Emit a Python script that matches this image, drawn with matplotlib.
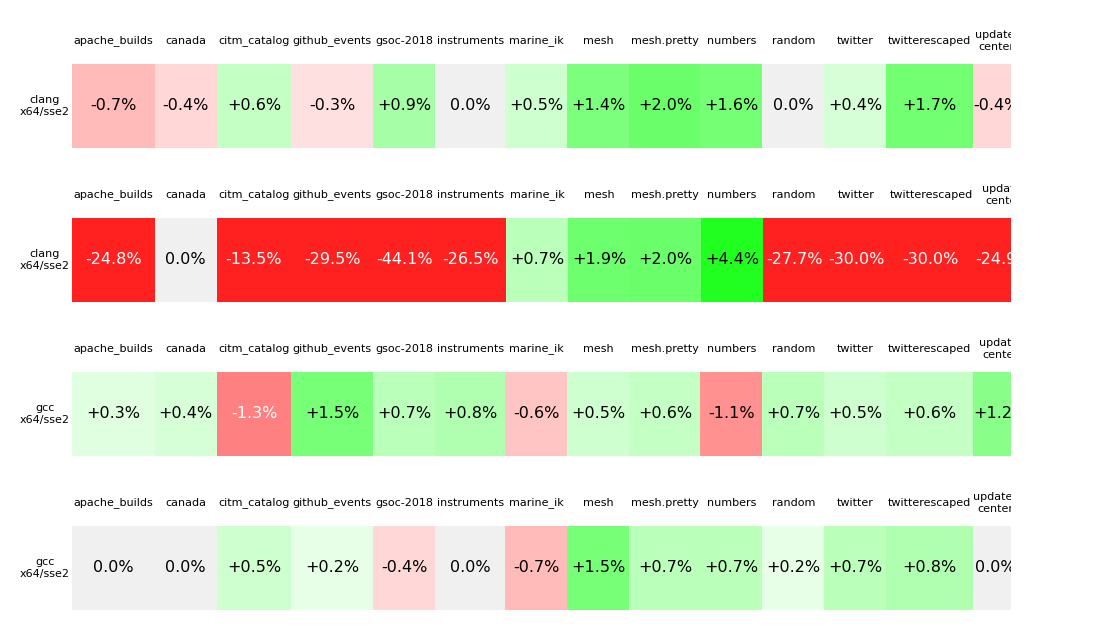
import matplotlib
matplotlib.use("Agg")
import matplotlib.pyplot as plt
from matplotlib.colors import LinearSegmentedColormap, Normalize
from matplotlib.font_manager import FontProperties
from matplotlib.patches import Rectangle

# ---------------- data ----------------
benchmarks = ["apache_builds", "canada", "citm_catalog", "github_events", "gsoc-2018",
              "instruments", "marine_ik", "mesh", "mesh.pretty", "numbers", "random",
              "twitter", "twitterescaped", "update-center"]
header_labels = ["apache_builds", "canada", "citm_catalog", "github_events", "gsoc-2018",
                 "instruments", "marine_ik", "mesh", "mesh.pretty", "numbers", "random",
                 "twitter", "twitterescaped", "update-\ncenter"]
row_labels = ["clang\nx64/sse2", "clang\nx64/sse2", "gcc\nx64/sse2", "gcc\nx64/sse2"]

row1 = [-0.7, -0.4, 0.6, -0.3, 0.9, 0.0, 0.5, 1.4, 2.0, 1.6, 0.0, 0.4, 1.7, -0.4]
row2 = [-24.8, 0.0, -13.5, -29.5, -44.1, -26.5, 0.7, 1.9, 2.0, 4.4, -27.7, -30.0, -30.0, -24.9]
row3 = [0.3, 0.4, -1.3, 1.5, 0.7, 0.8, -0.6, 0.5, 0.6, -1.1, 0.7, 0.5, 0.6, 1.2]
row4 = [0.0, 0.0, 0.5, 0.2, -0.4, 0.0, -0.7, 1.5, 0.7, 0.7, 0.2, 0.7, 0.8, 0.0]
rows = [row1, row2, row3, row4]

# ---------------- colour scale (red - grey - green) ----------------
mag_anchor = [0.0, 0.1, 0.3, 0.5, 0.8, 1.1, 1.3, 1.5, 2.0, 4.4, 5.0]
lvl_anchor = [240, 237, 224, 206, 176, 145, 128, 120, 106, 32, 32]
VMAX = 5.0
nodes = []
for m, l in zip(mag_anchor[::-1], lvl_anchor[::-1]):
    if m > 0:
        nodes.append(((-m + VMAX) / (2 * VMAX), (1.0, l / 255, l / 255)))
nodes.append((0.5, (240 / 255, 240 / 255, 240 / 255)))
for m, l in zip(mag_anchor, lvl_anchor):
    if m > 0:
        nodes.append(((m + VMAX) / (2 * VMAX), (l / 255, 1.0, l / 255)))
cmap = LinearSegmentedColormap.from_list("redgreen", nodes, N=2001)
norm = Normalize(vmin=-VMAX, vmax=VMAX, clip=True)


def fmt(v):
    if v == 0:
        return "0.0%"
    return f"{v:+.1f}%"


def rel_lum(c):
    def lin(x):
        return x / 12.92 if x <= 0.04045 else ((x + 0.055) / 1.055) ** 2.4
    r, g, b = c[:3]
    return 0.2126 * lin(r) + 0.7152 * lin(g) + 0.0722 * lin(b)


# ---------------- figure ----------------
W, H, DPI = 1100, 640, 100
fig = plt.figure(figsize=(W / DPI, H / DPI), dpi=DPI)
renderer = fig.canvas.get_renderer()

HEAD_FS = 8
VAL_FS = 11.5
head_prop = FontProperties(family="DejaVu Sans", size=HEAD_FS)
val_prop = FontProperties(family="DejaVu Sans", size=VAL_FS)


def text_w(s, prop):
    return max(renderer.get_text_width_height_descent(line, prop, ismath=False)[0]
               for line in s.split("\n"))


LEFT, RIGHT = 72, 1011
CELL_H = 84
HEAD_SPACE = 46
FIRST_TOP = 64
ROW_STEP = 154
MIN_W = 62

for r, vals in enumerate(rows):
    top = FIRST_TOP + ROW_STEP * r
    ax = fig.add_axes([LEFT / W, 1 - (top + CELL_H) / H,
                       (RIGHT - LEFT) / W, (CELL_H + HEAD_SPACE) / H])
    ax.set_xlim(0, RIGHT - LEFT)
    ax.set_ylim(CELL_H, -HEAD_SPACE)
    ax.axis("off")

    x = 0.0
    for lab, v in zip(header_labels, vals):
        s = fmt(v)
        if "\n" in lab:
            # wrapped header column is squeezed to its minimum content width
            w = max(text_w(lab, head_prop), text_w(s, val_prop)) + 2
        else:
            w = max(text_w(lab, head_prop) + 3, text_w(s, val_prop) + 6, MIN_W)
        col = cmap(norm(v))
        ax.add_patch(Rectangle((x, 0), w, CELL_H, facecolor=col, edgecolor="none",
                               clip_on=True))
        tc = "white" if rel_lum(col) < 0.41 else "black"
        ax.text(x + w / 2, CELL_H / 2, s, ha="center", va="center",
                fontproperties=val_prop, color=tc, clip_on=True)
        ax.text(x + w / 2, -23, lab, ha="center", va="center",
                fontproperties=head_prop, color="black", clip_on=True,
                multialignment="center", linespacing=1.25)
        x += w

    ax.text(-2, CELL_H / 2, row_labels[r], ha="right", va="center",
            multialignment="center", fontproperties=head_prop, color="black",
            linespacing=1.25, clip_on=False)

fig.savefig("out.png", dpi=DPI, facecolor="white")
